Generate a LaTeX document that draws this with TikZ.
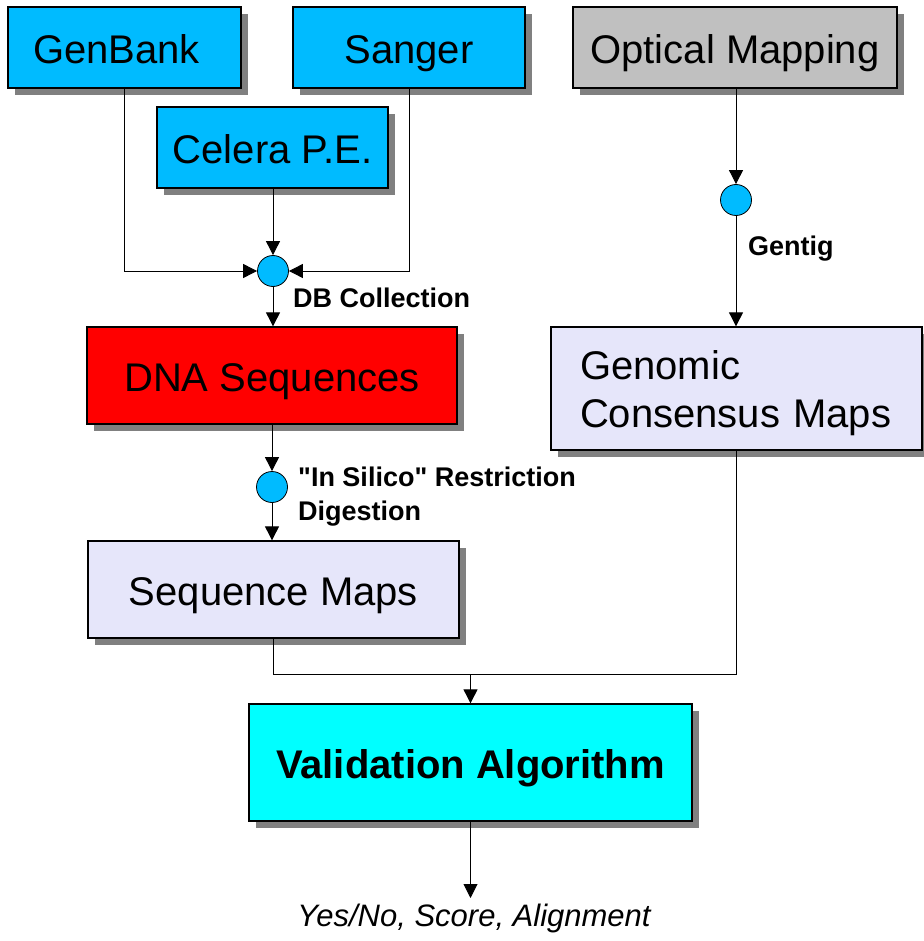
\documentclass[tikz,border=0pt]{standalone}
\usepackage{fontspec}
\setmainfont{Liberation Sans}
\usetikzlibrary{arrows.meta,shadows}
\definecolor{pBlue}{RGB}{0,187,255}
\definecolor{pGray}{RGB}{192,192,192}
\definecolor{pLav}{RGB}{230,230,250}
\definecolor{pCyan}{RGB}{0,255,255}
\definecolor{pRed}{RGB}{255,0,0}
\definecolor{pShade}{RGB}{128,128,128}
\tikzset{
    box/.style={rectangle, draw, line width=1.3pt, inner sep=0pt, minimum height=81pt,
        font=\fontsize{40}{48}\selectfont,
        drop shadow={shadow xshift=7pt, shadow yshift=-7pt, fill=pShade, opacity=1}},
    onerow/.style={box, text height=32pt, text depth=0pt},
    hub/.style={circle, draw, line width=0.8pt, fill=pBlue, inner sep=0pt, minimum size=31pt},
    lbl/.style={inner sep=0pt, font=\fontsize{27}{34}\selectfont\bfseries, align=left},
    conn/.style={line width=0.9pt},
    arr/.style={conn, -{Triangle[length=14pt,width=14pt]}}
}

\begin{document}
\begin{tikzpicture}[x=1pt,y=-1pt]
\useasboundingbox (0,0) rectangle (923,941);
% sources
\node[onerow, fill=pBlue, minimum width=233pt] (genbank) at (124.5,47.5) {GenBank\kern16pt};
\node[onerow, fill=pBlue, minimum width=232pt] (sanger)  at (409,47.5) {Sanger};
\node[onerow, fill=pBlue, minimum width=231pt] (celera)  at (272.5,147.5) {Celera P.E.};
\node[onerow, fill=pGray, minimum width=324pt] (optical) at (735,47.5) {Optical Mapping};
% hubs
\node[hub] (dbhub)  at (273,271) {};
\node[hub] (cuthub) at (272,487) {};
\node[hub] (genhub) at (736,200) {};
\node[lbl, anchor=base west] (dblbl)  at (293,307) {DB Collection};
\node[lbl, anchor=west]      (cutlbl) at (298,497) {\textquotedbl In Silico\textquotedbl{} Restriction\\Digestion};
\node[lbl, anchor=base west] (genlbl) at (748,255) {Gentig};
% maps
\node[onerow, fill=pRed, minimum width=370pt, minimum height=97pt] (dna) at (272,375.5) {DNA Sequences};
\node[onerow, fill=pLav, minimum width=371pt, minimum height=97pt] (seqmaps) at (273.5,589.5) {Sequence Maps};
\node[box, fill=pLav, minimum width=371pt, minimum height=123pt, text width=313pt,
      text height=29pt, text depth=48pt, inner xsep=29pt, align=left] (genomic) at (736.5,388.5) {Genomic\\Consensus Maps};
\node[onerow, fill=pCyan, minimum width=443pt, minimum height=117pt, font=\fontsize{40}{48}\selectfont\bfseries]
      (valid) at (470.5,762.5) {Validation Algorithm};
\node[inner xsep=0pt, inner ysep=6pt, anchor=north, font=\fontsize{31}{37}\selectfont\itshape]
      (result) at (474,898) {Yes/No, Score, Alignment};
% connectors
\draw[arr] (genbank.south) |- (dbhub.west);
\draw[arr] (sanger.south) |- (dbhub.east);
\draw[arr] (celera.south -| dbhub) -- (dbhub.north);
\draw[arr] (dbhub.south) -- (dbhub |- dna.north);
\draw[arr] (dna.south -| cuthub) -- (cuthub.north);
\draw[arr] (cuthub.south) -- (cuthub |- seqmaps.north);
\draw[arr] (optical.south -| genhub) -- (genhub.north);
\draw[arr] (genhub.south) -- (genhub |- genomic.north);
\coordinate (junc) at (valid.north |- 0,674);
\draw[conn] (seqmaps.south) |- (junc);
\draw[conn] (genomic.south) |- (junc);
\draw[arr] (junc) -- (valid.north);
\draw[arr] (valid.south) -- (valid.south |- result.north);
\end{tikzpicture}
\end{document}
